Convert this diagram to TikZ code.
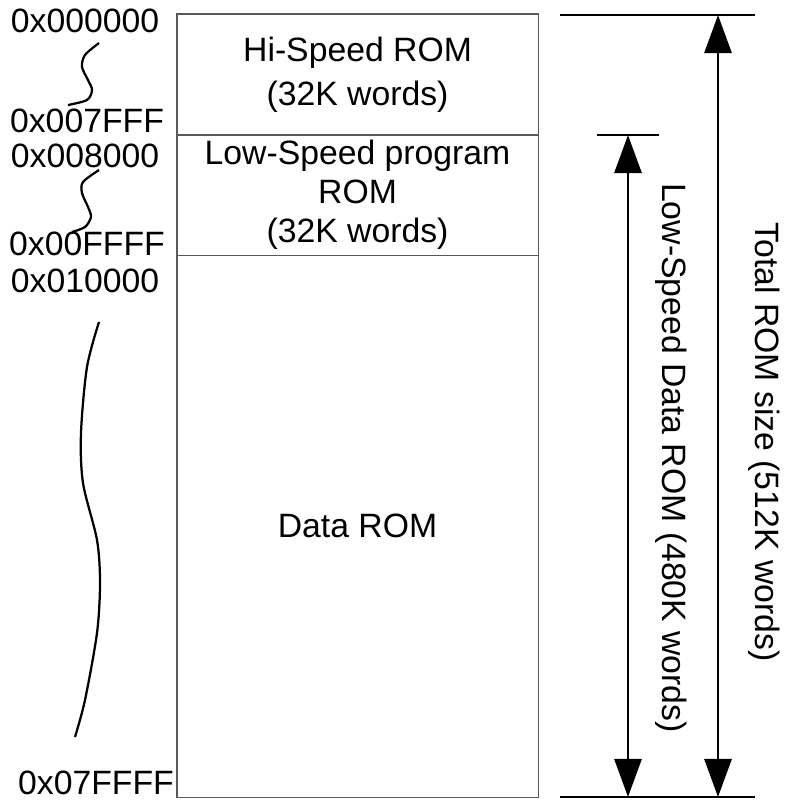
\documentclass[tikz,border=0pt]{standalone}
\usepackage{fontspec}
\setmainfont{Liberation Sans}
\usetikzlibrary{positioning,arrows.meta}

\tikzset{
  addr/.style={anchor=base, inner sep=0pt, font=\fontsize{24}{28}\selectfont},
  region/.style={draw=black!65, line width=0.8pt, minimum width=9.025cm, inner sep=0pt,
    outer sep=0pt, align=center},
  dimline/.style={line width=2pt,
    {Triangle[width=0.675cm,length=0.95cm]}-{Triangle[width=0.675cm,length=0.95cm]}},
  limitline/.style={line width=2pt},
  squig/.style={line width=1.6pt},
  vlabel/.style={rotate=-90, inner sep=0pt, font=\fontsize{24}{28}\selectfont},
}

\begin{document}
\begin{tikzpicture}[x=0.025cm, y=-0.025cm]
    \useasboundingbox (0,0) rectangle (785,801);

    % memory map
    \node[region, anchor=north west, minimum height=3.025cm,
      font=\fontsize{24}{31}\selectfont] (hirom) at (177,14) {Hi-Speed ROM\\(32K words)};
    \node[region, below=0pt of hirom, minimum height=3cm,
      font=\fontsize{24}{27.7}\selectfont] (lorom) {Low-Speed program\\ROM\\(32K words)};
    \node[region, below=0pt of lorom, minimum height=13.55cm,
      font=\fontsize{24}{28}\selectfont] (dataroom) {Data ROM};

    % addresses
    \node[addr] (a0) at (85,33) {0x000000};
    \node[addr] (a1) at (87,133) {0x007FFF};
    \node[addr] (a2) at (85,167) {0x008000};
    \node[addr] (a3) at (87,255) {0x00FFFF};
    \node[addr] (a4) at (85,292) {0x010000};
    \node[addr] (a5) at (96,794) {0x07FFFF};

    \draw[squig] plot[smooth] coordinates {(99,43) (85,55) (82,67) (88,80) (92,90) (87,100) (68,105)};
    \draw[squig] plot[smooth] coordinates {(99,170) (83,182) (82,193) (88,207) (91,217) (85,227) (72,232)};
    \draw[squig] plot[smooth] coordinates {(99,322) (87,367) (81,433) (83,483) (97,540) (100,583) (97,633) (85,700) (75,737)};

    % sizes
    \draw[limitline] (560,15) -- (755,15);
    \draw[limitline] (597,135) -- (659,135);
    \draw[limitline] (560,797) -- (755,797);

    \coordinate (lowtop) at (628,135);
    \coordinate (lowbot) at (628,797);
    \coordinate (tottop) at (718,15);
    \coordinate (totbot) at (718,797);
    \draw[dimline] (lowtop) -- (lowbot);
    \draw[dimline] (tottop) -- (totbot);

    \node[vlabel] (lowsize) at (671,458) {Low-Speed Data ROM (480K words)};
    \node[vlabel] (totsize) at (764,442) {Total ROM size (512K words)};
\end{tikzpicture}
\end{document}
